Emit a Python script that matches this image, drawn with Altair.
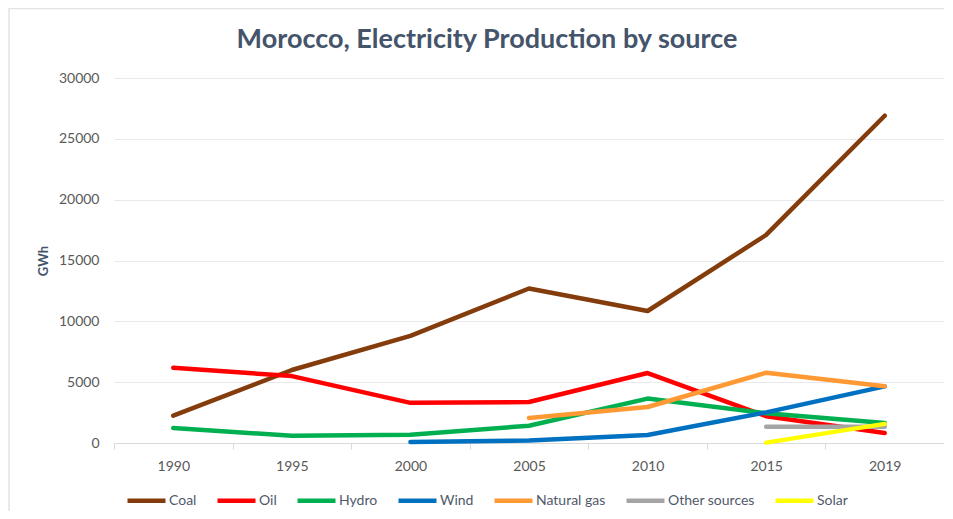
import altair as alt
import pandas as pd

years = ["1990", "1995", "2000", "2005", "2010", "2015", "2019"]
sources = ["Coal", "Oil", "Hydro", "Wind", "Natural gas", "Other sources", "Solar"]
colors = ["#843C0C", "#FF0000", "#00B050", "#0070C0", "#FF9933", "#A5A5A5", "#FFFF00"]
title_text = ["Morocco, Electricity Production by source"]

coal = [2250, 6000, 8800, 12700, 10850, 17100, 26900]
oil = [6180, 5500, 3300, 3370, 5750, 2200, 820]
hydro = [1230, 600, 680, 1420, 3650, 2450, 1650]
wind = [None, None, 80, 200, 660, 2520, 4650]
natural_gas = [None, None, None, 2050, 2960, 5780, 4660]
other_sources = [None, None, None, None, None, 1340, 1340]
solar = [None, None, None, None, None, 30, 1570]

series = [coal, oil, hydro, wind, natural_gas, other_sources, solar]
rows = []
for order, (name, vals) in enumerate(zip(sources, series)):
    for y, v in zip(years, vals):
        if v is not None:
            rows.append({"Year": y, "Source": name, "GWh": v, "order": order})
df = pd.DataFrame(rows)

FONT = "Lato"
TXT = "#595959"

lines = alt.Chart(df).mark_line(strokeWidth=4.5, strokeCap="round", strokeJoin="round").encode(
    x=alt.X("Year:N", sort=years, bandPosition=0.5,
            scale=alt.Scale(type="band", paddingInner=0, paddingOuter=0),
            axis=alt.Axis(title=None, tickBand="extent", labelAngle=0, grid=False,
                          domainColor="#D9D9D9", tickColor="#D9D9D9", tickSize=6,
                          labelPadding=10, labelFontSize=14, labelColor=TXT, labelFont=FONT)),
    y=alt.Y("GWh:Q", scale=alt.Scale(domain=[0, 30000]),
            axis=alt.Axis(title="GWh", values=list(range(0, 30001, 5000)), format="d",
                          domain=False, ticks=False,
                          gridColor="#E7E9EC", labelPadding=15, labelFontSize=14, labelColor=TXT,
                          labelFont=FONT, titleFont=FONT, titleFontSize=13, titleFontWeight="bold",
                          titleColor="#44546A", titlePadding=8)),
    color=alt.Color("Source:N", scale=alt.Scale(domain=sources, range=colors),
                    legend=alt.Legend(title=None, orient="none", direction="horizontal",
                                      legendX=11, legendY=401, symbolType="stroke",
                                      symbolSize=1444, symbolStrokeWidth=4.5,
                                      labelFont=FONT, labelFontSize=14, labelColor="#505A6A",
                                      labelOffset=1, columnPadding=11)),
    order=alt.Order("order:Q"),
    detail="Source:N",
)

frame = alt.Chart(pd.DataFrame({"k": [0]})).mark_rect(
    fill=None, stroke="#E1E4E8", strokeWidth=1.5
).encode(
    x=alt.value(-105), x2=alt.value(900), y=alt.value(-69.5), y2=alt.value(500)
)

title = alt.Chart(pd.DataFrame({"t": title_text})).mark_text(
    font=FONT, fontSize=27, fontWeight="bold", color="#44546A",
    align="center", baseline="alphabetic"
).encode(
    text="t:N", x=alt.value(373), y=alt.value(-30.5)
)

chart = alt.layer(frame, lines, title).properties(
    width=830,
    height=365,
    autosize=alt.AutoSizeParams(type="none"),
    padding={"left": 106, "top": 70, "right": 0, "bottom": 68},
).configure_view(stroke=None)

chart.save("out.html", embed_options={"renderer": "svg", "actions": False})
